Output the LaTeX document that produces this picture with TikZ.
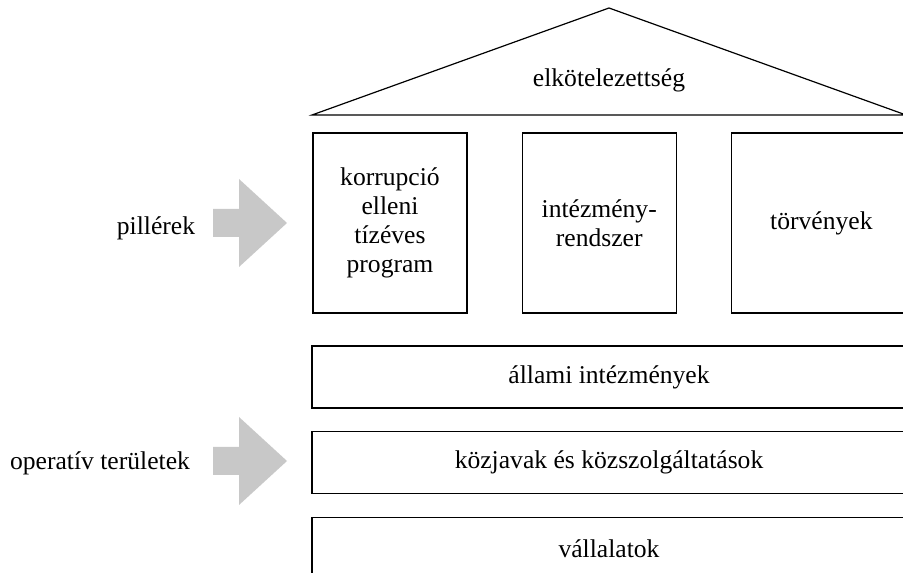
\documentclass[tikz,border=0pt]{standalone}
\usepackage{fontspec}
\setmainfont{Liberation Serif}
\usepackage{tikz}
\usetikzlibrary{positioning}

\definecolor{arrowgray}{RGB}{200,200,200}

\begin{document}
\begin{tikzpicture}[x=0.5pt, y=0.5pt, node distance=27pt, font=\fontsize{12.8}{14.5}\selectfont,
        box/.style={draw, line width=0.6pt, align=center, inner sep=0pt},
        pillar/.style={box, minimum width=77pt, minimum height=90pt},
        band/.style={box, minimum width=297pt, minimum height=31pt}]
            \useasboundingbox (0,0) rectangle (903,572);
            \clip (0,0) rectangle (903,572);

            % roof
            \draw[line width=0.6pt] (312,457) -- (609,564) -- (906,457) -- cycle;
            \node (roof) at (609,492) {elkötelezettség};

            % pillars
            \node[pillar] (p1) at (390,349) {korrupció\\elleni\\tízéves\\program};
            \node[pillar, right=of p1] (p2) {intézmény-\\rendszer};
            \node[pillar, right=of p2, minimum width=90pt] (p3) {törvények};

            % operative areas
            \node[band] (b1) at (609,195) {állami intézmények};
            \node[band, below=11pt of b1] (b2) {közjavak és közszolgáltatások};
            \node[band, below=11.5pt of b2] (b3) {vállalatok};

            % gray arrows
            \fill[arrowgray] (213,335) -- (239,335) -- (239,305) -- (287,349) -- (239,393) -- (239,363) -- (213,363) -- cycle;
            \fill[arrowgray] (213,97) -- (239,97) -- (239,67) -- (287,111) -- (239,155) -- (239,125) -- (213,125) -- cycle;
            \node (lp) at (156,344) {pillérek};
            \node (lo) at (100,109) {operatív területek};
        \end{tikzpicture}
\end{document}
